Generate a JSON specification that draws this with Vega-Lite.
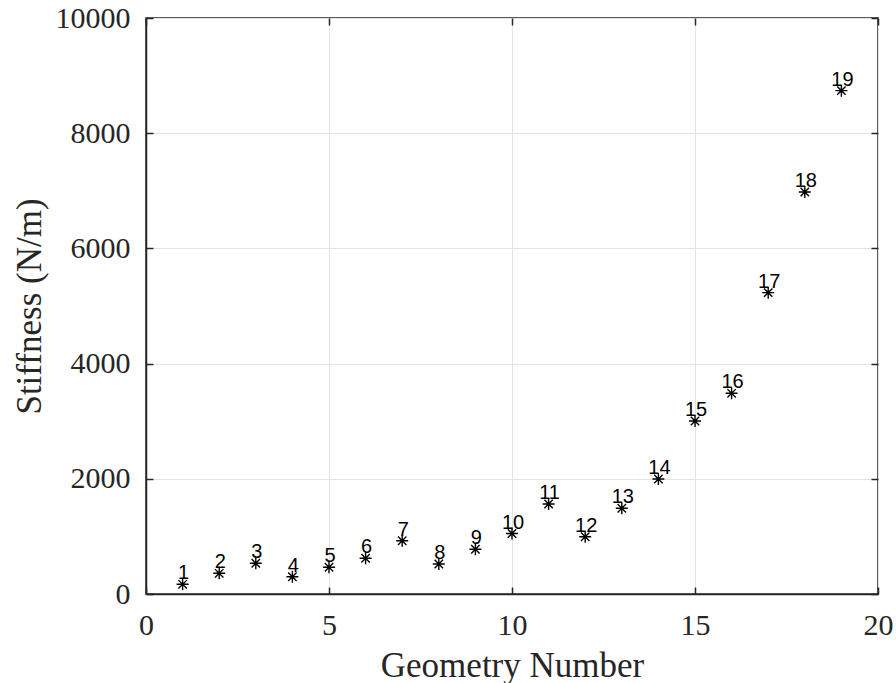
{
  "$schema": "https://vega.github.io/schema/vega-lite/v6.json",
  "autosize": "none",
  "width": 732,
  "height": 576,
  "padding": {"left": 146, "top": 18, "right": 18, "bottom": 89},
  "background": "white",
  "config": {
    "view": {"stroke": "#262626", "strokeWidth": 1.5},
    "axis": {
      "labelFont": "Liberation Serif",
      "titleFont": "Liberation Serif",
      "labelFontSize": 30,
      "titleFontSize": 35,
      "labelColor": "#262626",
      "titleColor": "#262626",
      "titleFontWeight": "normal",
      "domainColor": "#262626",
      "domainWidth": 1.5,
      "tickColor": "#262626",
      "tickWidth": 1.5,
      "tickSize": -7,
      "gridColor": "#e3e3e3",
      "gridWidth": 1,
      "gridOpacity": 1
    }
  },
  "data": {
    "values": [
      {"g": 1, "k": 168},
      {"g": 2, "k": 359},
      {"g": 3, "k": 533},
      {"g": 4, "k": 300},
      {"g": 5, "k": 464},
      {"g": 6, "k": 620},
      {"g": 7, "k": 925},
      {"g": 8, "k": 521},
      {"g": 9, "k": 776},
      {"g": 10, "k": 1050},
      {"g": 11, "k": 1562},
      {"g": 12, "k": 995},
      {"g": 13, "k": 1488},
      {"g": 14, "k": 1997},
      {"g": 15, "k": 3003},
      {"g": 16, "k": 3484},
      {"g": 17, "k": 5232},
      {"g": 18, "k": 6979},
      {"g": 19, "k": 8739}
    ]
  },
  "layer": [
    {
      "mark": {
        "type": "point",
        "shape": "M-1,0L1,0M0,-1L0,1M-0.7,-0.7L0.7,0.7M-0.7,0.7L0.7,-0.7",
        "size": 144,
        "filled": false,
        "stroke": "black",
        "strokeWidth": 1.4,
        "opacity": 1
      },
      "encoding": {
        "x": {
          "field": "g", "type": "quantitative",
          "scale": {"domain": [0, 20], "nice": false, "zero": false},
          "axis": {"orient": "bottom", "values": [0, 5, 10, 15, 20], "title": "Geometry Number", "grid": true, "labelPadding": 23, "titlePadding": 8, "labelFlush": false}
        },
        "y": {
          "field": "k", "type": "quantitative",
          "scale": {"domain": [0, 10000], "nice": false},
          "axis": {"orient": "left", "values": [0, 2000, 4000, 6000, 8000, 10000], "title": "Stiffness (N/m)", "grid": true, "labelPadding": 23, "titlePadding": 8, "format": "d", "labelFlush": false}
        }
      }
    },
    {
      "mark": {
        "type": "text",
        "font": "Liberation Sans",
        "fontSize": 20,
        "color": "black",
        "align": "center",
        "baseline": "alphabetic",
        "dy": -5,
        "dx": 1
      },
      "encoding": {
        "x": {
          "field": "g", "type": "quantitative",
          "axis": {"orient": "top", "values": [0, 5, 10, 15, 20], "labels": false, "title": null, "grid": false, "domain": false}
        },
        "y": {
          "field": "k", "type": "quantitative",
          "axis": {"orient": "right", "values": [0, 2000, 4000, 6000, 8000, 10000], "labels": false, "title": null, "grid": false, "domain": false}
        },
        "text": {"field": "g", "type": "quantitative"}
      }
    }
  ],
  "resolve": {"axis": {"x": "independent", "y": "independent"}}
}
